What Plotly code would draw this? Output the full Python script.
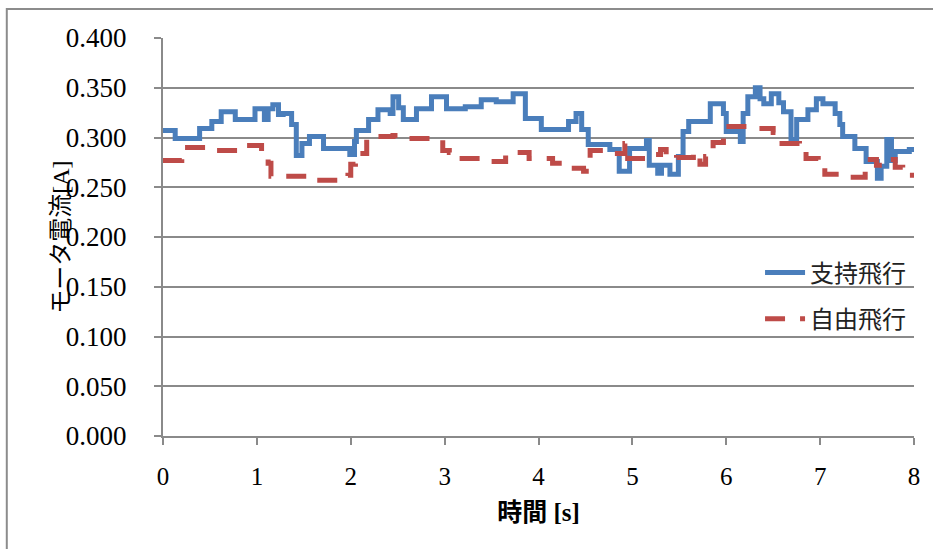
import plotly.graph_objects as go

# Data (step-wise currents)
support_t = [0.00, 0.13, 0.39, 0.52, 0.62, 0.77, 0.98, 1.08, 1.12, 1.17, 1.23, 1.28, 1.37, 1.42, 1.48, 1.56,
             1.71, 1.99, 2.04, 2.06, 2.19, 2.29, 2.42, 2.45, 2.51, 2.56, 2.70, 2.86, 3.02, 3.22, 3.39, 3.55,
             3.73, 3.86, 4.03, 4.32, 4.40, 4.46, 4.53, 4.76, 4.86, 4.97, 5.15, 5.18, 5.27, 5.31, 5.40, 5.49,
             5.54, 5.60, 5.83, 5.97, 6.00, 6.15, 6.18, 6.23, 6.31, 6.36, 6.40, 6.48, 6.56, 6.61, 6.69, 6.75,
             6.87, 6.96, 7.03, 7.16, 7.21, 7.24, 7.37, 7.49, 7.61, 7.65, 7.71, 7.76, 7.80, 7.95, 8.00]
support_a = [0.307, 0.299, 0.309, 0.316, 0.326, 0.318, 0.329, 0.318, 0.329, 0.333, 0.323, 0.324, 0.313, 0.282, 0.294, 0.301,
             0.289, 0.283, 0.296, 0.307, 0.318, 0.328, 0.324, 0.341, 0.330, 0.318, 0.329, 0.341, 0.329, 0.331, 0.338, 0.336,
             0.344, 0.319, 0.308, 0.316, 0.324, 0.308, 0.293, 0.288, 0.266, 0.289, 0.297, 0.272, 0.264, 0.272, 0.263, 0.281,
             0.306, 0.316, 0.334, 0.324, 0.306, 0.296, 0.324, 0.341, 0.350, 0.339, 0.334, 0.344, 0.335, 0.326, 0.298, 0.318,
             0.328, 0.339, 0.334, 0.324, 0.313, 0.301, 0.289, 0.276, 0.259, 0.271, 0.298, 0.277, 0.286, 0.288, 0.288]

free_t = [0.00, 0.20, 0.50, 0.84, 1.05, 1.12, 1.15, 1.55, 1.97, 2.00, 2.05, 2.17, 2.45, 2.60, 2.98, 3.05,
          3.15, 3.40, 3.65, 3.90, 4.15, 4.28, 4.48, 4.55, 4.80, 4.92, 4.95, 5.17, 5.30, 5.36, 5.47, 5.65,
          5.72, 5.78, 5.86, 5.97, 6.20, 6.30, 6.50, 6.56, 6.78, 6.85, 6.98, 7.05, 7.20, 7.48, 7.60, 7.70,
          7.80, 7.88, 8.00]
free_a = [0.277, 0.290, 0.287, 0.292, 0.280, 0.274, 0.261, 0.257, 0.262, 0.273, 0.284, 0.301, 0.302, 0.299, 0.287, 0.285,
          0.279, 0.276, 0.285, 0.279, 0.274, 0.269, 0.266, 0.287, 0.284, 0.294, 0.279, 0.283, 0.288, 0.279, 0.280, 0.285,
          0.273, 0.281, 0.295, 0.311, 0.311, 0.309, 0.305, 0.294, 0.287, 0.279, 0.270, 0.263, 0.260, 0.278, 0.272, 0.278,
          0.270, 0.262, 0.262]

x_ticks = [0, 1, 2, 3, 4, 5, 6, 7, 8]
y_ticks = [0.0, 0.05, 0.1, 0.15, 0.2, 0.25, 0.3, 0.35, 0.4]

GRID = "#8a8a8a"
SERIF = "Liberation Serif"
MIXED = "Liberation Serif, Noto Sans CJK JP"

fig = go.Figure()
fig.add_trace(go.Scatter(x=support_t, y=support_a, mode="lines", name="支持飛行", legendgroup="a",
                         line=dict(color="#4A7EBB", width=5, shape="hv")))
fig.add_trace(go.Scatter(x=free_t, y=free_a, mode="lines", name="自由飛行", legendgroup="b",
                         line=dict(color="#BE4B48", width=5, shape="hv", dash="20px,15px")))

fig.update_layout(
    width=933, height=549,
    margin=dict(l=163, r=19, t=38, b=113),
    paper_bgcolor="white", plot_bgcolor="white",
    font=dict(family=MIXED, size=24, color="black"),
    showlegend=True,
    legend=dict(x=0.795, y=0.352, xanchor="left", yanchor="middle",
                bgcolor="rgba(0,0,0,0)", font=dict(family="Noto Sans CJK JP", size=24, color="#222"),
                tracegroupgap=12, itemwidth=40),
    xaxis=dict(range=[0, 8], tickvals=x_ticks, showgrid=False, zeroline=False,
               showline=True, linecolor=GRID, linewidth=2, ticks="outside", ticklen=7,
               tickcolor=GRID, tickwidth=2, tickfont=dict(family=SERIF, size=25),
               ticklabelstandoff=10,
               title=dict(text="<b>時間 [s]</b>", font=dict(family=MIXED, size=25), standoff=14)),
    yaxis=dict(range=[0, 0.4], tickvals=y_ticks, tickformat=".3f", showgrid=True,
               gridcolor=GRID, gridwidth=2, zeroline=False,
               showline=True, linecolor=GRID, linewidth=2, ticks="outside", ticklen=7,
               tickcolor=GRID, tickwidth=2, tickfont=dict(family=SERIF, size=27),
               ticklabelstandoff=22),
    annotations=[dict(text="モータ電流[A]", textangle=-90, xref="paper", yref="paper",
                      x=-0.136, y=0.5, xanchor="center", yanchor="middle", showarrow=False,
                      font=dict(family=MIXED, size=24, color="black"))],
    shapes=[dict(type="rect", xref="paper", yref="paper", x0=-0.208, y0=-0.5, x1=1.2, y1=1.073,
                 line=dict(color="#8c8c8c", width=2), fillcolor="rgba(0,0,0,0)", layer="below")],
)

fig.write_html("out.html", config={"displayModeBar": False},
               post_script="document.body.style.margin='0';")
